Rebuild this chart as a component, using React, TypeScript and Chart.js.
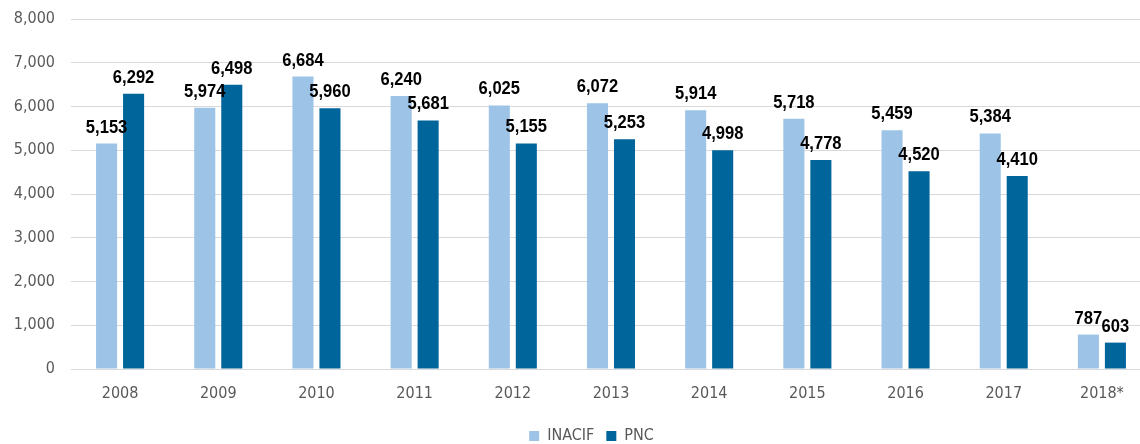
import React, { useEffect, useRef } from "react";
import { Chart, registerables } from "chart.js";

Chart.register(...registerables);

const categories = ["2008", "2009", "2010", "2011", "2012", "2013", "2014", "2015", "2016", "2017", "2018*"];
const inacif = [5153, 5974, 6684, 6240, 6025, 6072, 5914, 5718, 5459, 5384, 787];
const pnc = [6292, 6498, 5960, 5681, 5155, 5253, 4998, 4778, 4520, 4410, 603];
const yTicks = [0, 1000, 2000, 3000, 4000, 5000, 6000, 7000, 8000];

const FONT = "'DejaVu Sans Condensed', 'Liberation Sans', Arial, sans-serif";
const LABEL_FONT = "'Liberation Sans', Arial, sans-serif";

const fmt = (v: number) => v.toLocaleString("en-US");

const labelPlugin = {
  id: "barLabels",
  afterDatasetsDraw(chart: any) {
    const ctx = chart.ctx;
    chart.data.datasets.forEach((ds: any, di: number) => {
      const meta = chart.getDatasetMeta(di);
      meta.data.forEach((bar: any, i: number) => {
        ctx.save();
        ctx.font = `bold 18px ${LABEL_FONT}`;
        ctx.fillStyle = "#000000";
        ctx.textAlign = "center";
        ctx.textBaseline = "alphabetic";
        ctx.translate(bar.x, bar.y - 11);
        ctx.scale(0.92, 1);
        ctx.fillText(fmt(ds.data[i]), 0, 0);
        ctx.restore();
      });
    });
  },
};

const legendPlacePlugin = {
  id: "legendPlace",
  beforeInit(chart: any) {
    const lg = chart.legend;
    if (!lg) return;
    const orig = lg.fit;
    lg.fit = function (this: any) {
      orig.call(this);
      this.height = 28;
    };
  },
  afterLayout(chart: any) {
    const lg = chart.legend;
    if (!lg) return;
    lg.left += 16;
    lg.right += 16;
  },
};

export default function App() {
  const ref = useRef<HTMLCanvasElement>(null);
  useEffect(() => {
    if (!ref.current) return;
    const chart = new Chart(ref.current, {
      type: "bar",
      data: {
        labels: categories,
        datasets: [
          { label: "INACIF", data: inacif, backgroundColor: "#9DC3E6", categoryPercentage: 0.55, barPercentage: 0.78 },
          { label: "PNC", data: pnc, backgroundColor: "#00659B", categoryPercentage: 0.55, barPercentage: 0.78 },
        ],
      },
      options: {
        animation: false,
        responsive: false,
        maintainAspectRatio: false,
        layout: { padding: { left: 0, right: 9, top: 19, bottom: 0 } },
        plugins: {
          tooltip: { enabled: false },
          legend: {
            position: "bottom",
            labels: {
              font: { family: FONT, size: 16 },
              color: "#595959",
              boxWidth: 10,
              boxHeight: 10,
              padding: 12,
            },
          },
        },
        scales: {
          x: {
            grid: { display: false, drawTicks: false },
            border: { display: false },
            afterFit: (s: any) => {
              s.height = 47;
              s.paddingLeft = 0;
              s.paddingRight = 0;
            },
            ticks: { font: { family: FONT, size: 16 }, color: "#595959", padding: 15 },
          },
          y: {
            min: 0,
            max: 8000,
            afterBuildTicks: (s: any) => {
              s.ticks = yTicks.map((v) => ({ value: v }));
            },
            afterFit: (s: any) => {
              s.width = 71;
              s.paddingTop = 0;
              s.paddingBottom = 0;
            },
            grid: { color: "#D9D9D9", drawTicks: false, lineWidth: 1 },
            border: { display: false },
            ticks: {
              font: { family: FONT, size: 16 },
              color: "#595959",
              padding: 16,
              callback: (v: any) => fmt(Number(v)),
            },
          },
        },
      },
      plugins: [labelPlugin, legendPlacePlugin],
    });
    return () => chart.destroy();
  }, []);
  return (
    <div style={{ position: "fixed", left: 0, top: 0, width: 1160, height: 444, background: "#fff" }}>
      <canvas ref={ref} width={1160} height={444} />
    </div>
  );
}
